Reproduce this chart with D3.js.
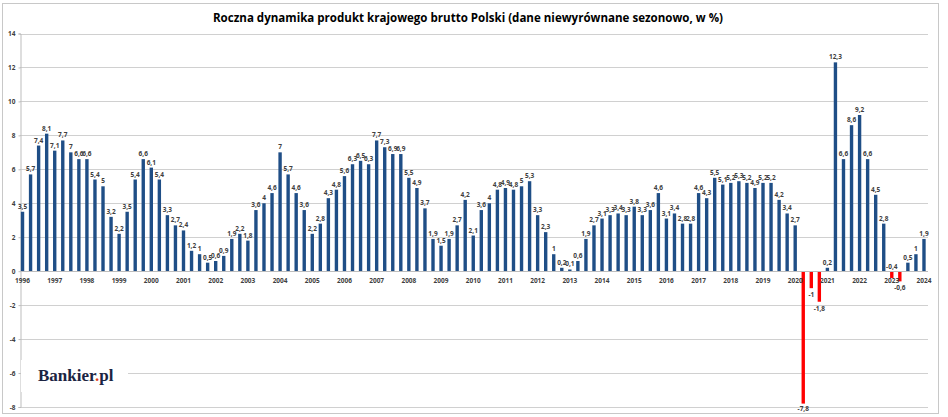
<!DOCTYPE html>
<html>
<head>
<meta charset="utf-8">
<script src="https://cdn.jsdelivr.net/npm/d3@7"></script>
<style>
  body { margin: 0; background: #fff; }
  svg text { font-family: "Open Sans", "DejaVu Sans", sans-serif; }
</style>
</head>
<body>
<div id="chart"></div>
<script>
// Year tick labels (one per Q1)
const yearLabels = ["1996","1997","1998","1999","2000","2001","2002","2003","2004","2005",
  "2006","2007","2008","2009","2010","2011","2012","2013","2014","2015","2016","2017",
  "2018","2019","2020","2021","2022","2023","2024"];

// Quarter names
const quarterNames = ["I", "II", "III", "IV"];

// GDP y/y growth, quarterly, 1996 Q1 - 2024 Q1
const gdpValues = [
  3.5, 5.7, 7.4, 8.1,
  7.1, 7.7, 7, 6.6,
  6.6, 5.4, 5, 3.2,
  2.2, 3.5, 5.4, 6.6,
  6.1, 5.4, 3.3, 2.7,
  2.4, 1.2, 1, 0.5,
  0.6, 0.9, 1.9, 2.2,
  1.8, 3.6, 4, 4.6,
  7, 5.7, 4.6, 3.6,
  2.2, 2.8, 4.3, 4.8,
  5.6, 6.3, 6.5, 6.3,
  7.7, 7.3, 6.9, 6.9,
  5.5, 4.9, 3.7, 1.9,
  1.5, 1.9, 2.7, 4.2,
  2.1, 3.6, 4, 4.8,
  4.9, 4.8, 5, 5.3,
  3.3, 2.3, 1, 0.2,
  0.1, 0.6, 1.9, 2.7,
  3.1, 3.3, 3.4, 3.3,
  3.8, 3.3, 3.6, 4.6,
  3.1, 3.4, 2.8, 2.8,
  4.6, 4.3, 5.5, 5.1,
  5.2, 5.3, 5.2, 4.9,
  5.2, 5.2, 4.2, 3.4,
  2.7, -7.8, -1, -1.8,
  0.2, 12.3, 6.6, 8.6,
  9.2, 6.6, 4.5, 2.8,
  -0.4, -0.6, 0.5, 1,
  1.9
];

// Y axis ticks
const yTicks = [-8, -6, -4, -2, 0, 2, 4, 6, 8, 10, 12, 14];

const titleText = "Roczna dynamika produkt krajowego brutto Polski (dane niewyrównane sezonowo, w %)";

const width = 948, height = 417;
const plot = { left: 20, right: 928, top: 33.5, bottom: 407 };

// categories: "1996 I", "1996 II", ...
const categories = gdpValues.map((v, i) => yearLabels[Math.floor(i / 4)] + " " + quarterNames[i % 4]);
const data = gdpValues.map((v, i) => ({ key: categories[i], value: v, q: i % 4, year: yearLabels[Math.floor(i / 4)] }));

const svg = d3.select("#chart").append("svg")
    .attr("width", width)
    .attr("height", height);

// outer frame
svg.append("rect")
    .attr("x", 2.5).attr("y", 3.5)
    .attr("width", 936).attr("height", 410)
    .attr("fill", "#fff")
    .attr("stroke", "#c8c8c8");

const x = d3.scaleBand()
    .domain(categories)
    .range([plot.left - 1.5, plot.right])
    .paddingInner(0.58)
    .paddingOuter(0.29);

const y = d3.scaleLinear()
    .domain([-8, 14])
    .range([plot.bottom, plot.top]);

// gridlines
svg.append("g")
    .selectAll("line")
    .data(yTicks.filter(d => d !== 0))
    .join("line")
    .attr("x1", plot.left).attr("x2", plot.right)
    .attr("y1", d => Math.round(y(d)) + 0.5).attr("y2", d => Math.round(y(d)) + 0.5)
    .attr("stroke", "#d0d0d0")
    .attr("stroke-width", 1);

// Y axis
const yAxis = svg.append("g")
    .attr("transform", `translate(${plot.left + 0.5},0)`)
    .call(d3.axisLeft(y).tickValues(yTicks).tickSize(2).tickPadding(3).tickFormat(d => d));
yAxis.select(".domain").attr("stroke", "#bdbdbd");
yAxis.selectAll(".tick line").attr("stroke", "#bdbdbd");
yAxis.selectAll("text")
    .attr("font-size", "6.5px")
    .attr("font-weight", "bold")
    .attr("fill", "#404040")
    .style("font-family", "'Open Sans', sans-serif");

// Bankier.pl logo with white backdrop
svg.append("rect")
    .attr("x", plot.left + 1).attr("y", 360)
    .attr("width", 107).attr("height", 32)
    .attr("fill", "#fff");
const logo = svg.append("text")
    .attr("x", 38).attr("y", 381)
    .attr("font-size", "17px")
    .attr("font-weight", "bold")
    .attr("fill", "#1b2442")
    .style("font-family", "'Liberation Serif', 'DejaVu Serif', serif");
logo.append("tspan").text("Bankier");
logo.append("tspan").attr("fill", "#e2401c").text(".");
logo.append("tspan").text("pl");

// bars
svg.append("g")
    .selectAll("rect")
    .data(data)
    .join("rect")
    .attr("x", d => x(d.key))
    .attr("width", x.bandwidth())
    .attr("y", d => y(Math.max(0, d.value)))
    .attr("height", d => Math.abs(y(d.value) - y(0)))
    .attr("fill", d => d.value < 0 ? "#ff0000" : "#1f4e86");

// zero axis line
svg.append("line")
    .attr("x1", plot.left).attr("x2", plot.right)
    .attr("y1", Math.round(y(0)) + 0.5).attr("y2", Math.round(y(0)) + 0.5)
    .attr("stroke", "#bdbdbd");

// X axis year labels under Q1 bars
svg.append("g")
    .selectAll("text")
    .data(data.filter(d => d.q === 0))
    .join("text")
    .attr("x", d => x(d.key) + x.bandwidth() / 2)
    .attr("y", y(0) + 12)
    .attr("text-anchor", "middle")
    .attr("font-size", "6.5px")
    .attr("font-weight", "bold")
    .attr("fill", "#404040")
    .text(d => d.year);

// value labels
const fmt = v => String(v).replace(".", ",");
svg.append("g")
    .selectAll("text")
    .data(data)
    .join("text")
    .attr("x", d => x(d.key) + x.bandwidth() / 2)
    .attr("y", d => {
        if (d.value >= 0) return y(d.value) - 3;
        if (d.value > -0.5) return y(0) - 2;   // small negative: keep clear of the year label
        return Math.min(y(d.value) + 9, 411);
    })
    .attr("text-anchor", "middle")
    .attr("font-size", "6.5px")
    .attr("font-weight", "bold")
    .attr("fill", "#404040")
    .text(d => fmt(d.value));

// title, scaled to the reference width
const title = svg.append("text")
    .attr("x", 468).attr("y", 22)
    .attr("text-anchor", "middle")
    .attr("font-size", "13px")
    .attr("font-weight", "bold")
    .attr("fill", "#000")
    .text(titleText);
const tw = title.node().getComputedTextLength();
title.attr("font-size", (13 * 510 / tw).toFixed(2) + "px");
</script>
</body>
</html>
